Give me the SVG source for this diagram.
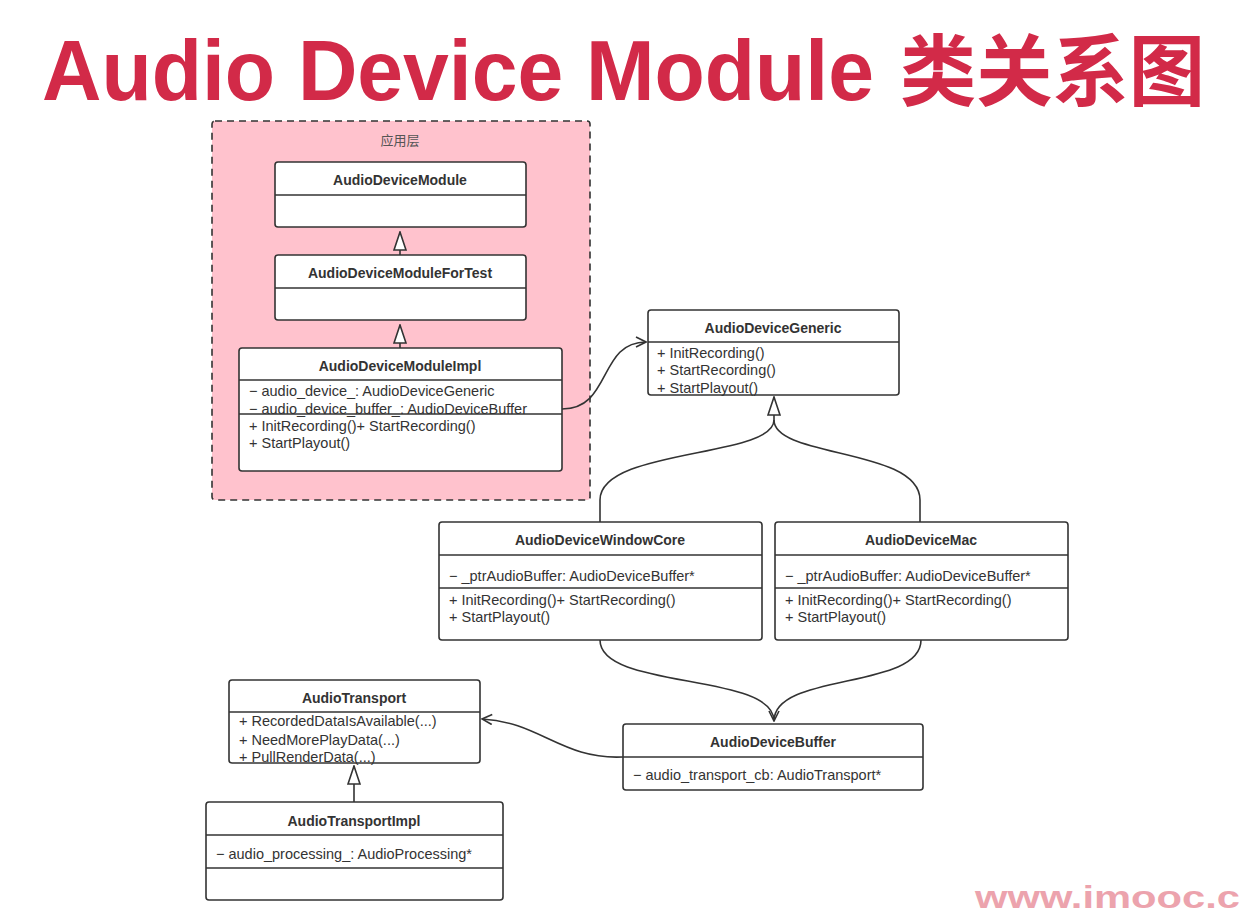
<svg xmlns="http://www.w3.org/2000/svg" width="1247" height="914" viewBox="0 0 1247 914">
<defs>
<style>
.box{fill:#fff;stroke:#333;stroke-width:1.6}
.div{stroke:#333;stroke-width:1.6}
.t{font-family:"Liberation Sans",Arial,sans-serif;font-size:14px;font-weight:bold;fill:#333;text-anchor:middle}
.m{font-family:"Liberation Sans",Arial,sans-serif;font-size:14.5px;fill:#333}
.c{fill:none;stroke:#333;stroke-width:1.6}
</style>
<marker id="open" viewBox="0 0 12 12" refX="11" refY="6" markerWidth="12" markerHeight="12" markerUnits="userSpaceOnUse" orient="auto">
<path d="M1,1 L11,6 L1,11" fill="none" stroke="#333" stroke-width="1.6"/>
</marker>
<marker id="tri" viewBox="0 0 20 14" refX="19" refY="7" markerWidth="20" markerHeight="14" markerUnits="userSpaceOnUse" orient="auto">
<path d="M1,1 L19,7 L1,13 Z" fill="#fff" stroke="#333" stroke-width="1.6"/>
</marker>
</defs>
<rect width="1247" height="914" fill="#fff"/>
<text x="42" y="100" font-family="Liberation Sans,Arial,sans-serif" font-size="86" font-weight="bold" fill="#d22a48" textLength="832" lengthAdjust="spacingAndGlyphs">Audio Device Module</text>
<text x="900" y="100" font-family="Noto Sans CJK SC,sans-serif" font-size="78" font-weight="bold" fill="#d22a48" textLength="305" lengthAdjust="spacingAndGlyphs">类关系图</text>

<g id="layer-app">
<rect x="212" y="121" width="378" height="379" rx="3" fill="#ffc2cd" stroke="#333" stroke-width="1.6" stroke-dasharray="7,5"/>
<text x="400" y="145" font-family="Noto Sans CJK SC,sans-serif" font-size="13" fill="#555" text-anchor="middle">应用层</text>
</g>

<g id="connectors">
<path class="c" d="M400,255 L400,232" marker-end="url(#tri)"/>
<path class="c" d="M400,348 L400,325" marker-end="url(#tri)"/>
<path class="c" d="M562,409 C612,409 598,342 646,342" marker-end="url(#open)"/>
<path class="c" d="M600,522 L600,500 C600,448 774,458 774,420" />
<path class="c" d="M920,522 L920,500 C920,448 774,458 774,420" />
<path class="c" d="M774,420 L774,397" marker-end="url(#tri)"/>
<path class="c" d="M600,640 C600,690 774,672 774,721" marker-end="url(#open)"/>
<path class="c" d="M921,640 C921,690 774,672 774,721"/>
<path class="c" d="M623,757 C562,760 540,722 482,719" marker-end="url(#open)"/>
<path class="c" d="M354,802 L354,766" marker-end="url(#tri)"/>
</g>

<g id="AudioDeviceModule">
<rect class="box" x="275" y="162" width="251" height="65" rx="3"/>
<line class="div" x1="275" y1="195" x2="526" y2="195"/>
<text class="t" x="400" y="185">AudioDeviceModule</text>
</g>

<g id="AudioDeviceModuleForTest">
<rect class="box" x="275" y="255" width="251" height="65" rx="3"/>
<line class="div" x1="275" y1="288" x2="526" y2="288"/>
<text class="t" x="400" y="278">AudioDeviceModuleForTest</text>
</g>

<g id="AudioDeviceModuleImpl">
<rect class="box" x="239" y="348" width="323" height="123" rx="3"/>
<line class="div" x1="239" y1="380" x2="562" y2="380"/>
<text class="t" x="400" y="371">AudioDeviceModuleImpl</text>
<text class="m" x="249" y="396">− audio_device_: AudioDeviceGeneric</text>
<text class="m" x="249" y="414">− audio_device_buffer_: AudioDeviceBuffer</text>
<line class="div" x1="239" y1="414" x2="562" y2="414"/>
<text class="m" x="249" y="431">+ InitRecording()+ StartRecording()</text>
<text class="m" x="249" y="448">+ StartPlayout()</text>
</g>

<g id="AudioDeviceGeneric">
<rect class="box" x="648" y="310" width="251" height="85" rx="3"/>
<line class="div" x1="648" y1="342" x2="899" y2="342"/>
<text class="t" x="773" y="333">AudioDeviceGeneric</text>
<text class="m" x="657" y="358">+ InitRecording()</text>
<text class="m" x="657" y="375">+ StartRecording()</text>
<text class="m" x="657" y="393">+ StartPlayout()</text>
</g>

<g id="AudioDeviceWindowCore">
<rect class="box" x="439" y="522" width="323" height="118" rx="3"/>
<line class="div" x1="439" y1="555" x2="762" y2="555"/>
<line class="div" x1="439" y1="588" x2="762" y2="588"/>
<text class="t" x="600" y="545">AudioDeviceWindowCore</text>
<text class="m" x="449" y="581">− _ptrAudioBuffer: AudioDeviceBuffer*</text>
<text class="m" x="449" y="605">+ InitRecording()+ StartRecording()</text>
<text class="m" x="449" y="622">+ StartPlayout()</text>
</g>

<g id="AudioDeviceMac">
<rect class="box" x="775" y="522" width="293" height="118" rx="3"/>
<line class="div" x1="775" y1="555" x2="1068" y2="555"/>
<line class="div" x1="775" y1="588" x2="1068" y2="588"/>
<text class="t" x="921" y="545">AudioDeviceMac</text>
<text class="m" x="785" y="581">− _ptrAudioBuffer: AudioDeviceBuffer*</text>
<text class="m" x="785" y="605">+ InitRecording()+ StartRecording()</text>
<text class="m" x="785" y="622">+ StartPlayout()</text>
</g>

<g id="AudioDeviceBuffer">
<rect class="box" x="623" y="724" width="300" height="66" rx="3"/>
<line class="div" x1="623" y1="757" x2="923" y2="757"/>
<text class="t" x="773" y="747">AudioDeviceBuffer</text>
<text class="m" x="633" y="780">− audio_transport_cb: AudioTransport*</text>
</g>

<g id="AudioTransport">
<rect class="box" x="229" y="680" width="251" height="83" rx="3"/>
<line class="div" x1="229" y1="712" x2="480" y2="712"/>
<text class="t" x="354" y="703">AudioTransport</text>
<text class="m" x="239" y="726">+ RecordedDataIsAvailable(...)</text>
<text class="m" x="239" y="745">+ NeedMorePlayData(...)</text>
<text class="m" x="239" y="762">+ PullRenderData(...)</text>
</g>

<g id="AudioTransportImpl">
<rect class="box" x="206" y="802" width="297" height="98" rx="3"/>
<line class="div" x1="206" y1="835" x2="503" y2="835"/>
<line class="div" x1="206" y1="868" x2="503" y2="868"/>
<text class="t" x="354" y="826">AudioTransportImpl</text>
<text class="m" x="216" y="859">− audio_processing_: AudioProcessing*</text>
</g>

<text x="975" y="908" font-family="Liberation Sans,Arial,sans-serif" font-size="32" font-weight="bold" fill="#eca3ad" textLength="265" lengthAdjust="spacingAndGlyphs">www.imooc.c</text>
</svg>
